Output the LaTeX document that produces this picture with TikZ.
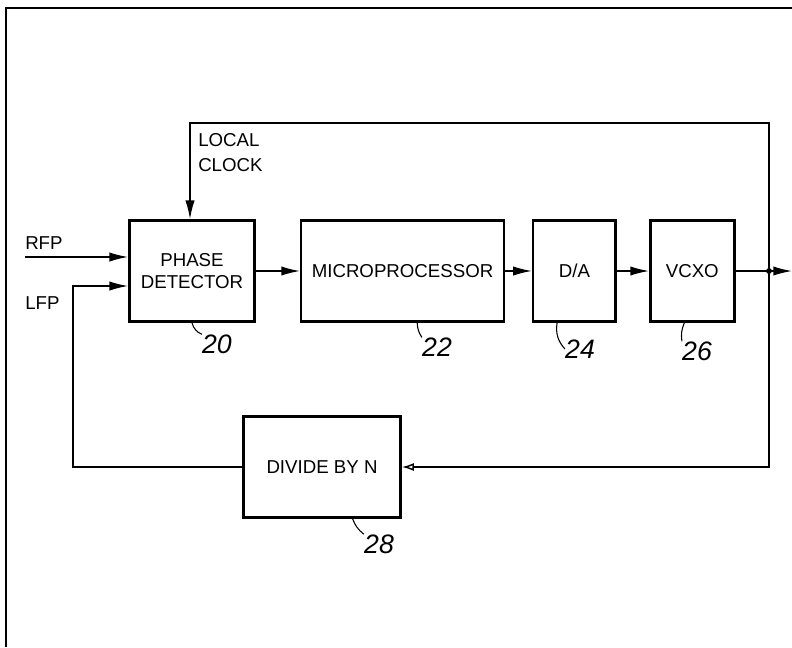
\documentclass[tikz,border=0pt]{standalone}
\usepackage{fontspec}
\setsansfont{Liberation Sans}
\usetikzlibrary{arrows.meta,positioning}
\tikzset{
  blockbox/.style={
    rectangle, draw=black, line width=1.9pt,
    minimum height=76pt,
    font=\sffamily\fontsize{14}{17}\selectfont, align=center,
    inner sep=2pt
  },
  sigarrow/.style={
    -{Latex[length=14pt,width=7pt]}, line width=1.1pt
  },
  openarrow/.style={
    -{Latex[open,length=9pt,width=6pt]}, line width=1.1pt
  },
  sigtext/.style={
    font=\sffamily\fontsize{14}{19}\selectfont, align=left, inner sep=0pt
  },
  refnum/.style={
    font=\sffamily\itshape\fontsize{20}{22}\selectfont, inner sep=0pt
  },
  leader/.style={line width=0.8pt},
}

\begin{document}
\begin{tikzpicture}[x=0.75pt, y=-0.75pt]
  \useasboundingbox (0,0) rectangle (792,647);
  % scan frame
  \draw[line width=1.2pt] (6,647) -- (6,8) -- (792,8);

  % forward chain
  \node[blockbox, minimum width=94pt] (phasedet) at (192,271) {PHASE\\DETECTOR};
  \node[blockbox, minimum width=152pt, right=33pt of phasedet] (micro) {MICROPROCESSOR};
  \node[blockbox, minimum width=62pt, right=20pt of micro] (dac) {D/A};
  \node[blockbox, minimum width=63pt, right=24pt of dac] (vcxo) {VCXO};
  \node[blockbox, minimum width=118pt] (divn) at (322,467) {DIVIDE BY N};

  \draw[sigarrow] (phasedet) -- (micro);
  \draw[sigarrow] (micro) -- (dac);
  \draw[sigarrow] (dac) -- (vcxo);

  % inputs and feedback
  \coordinate (rfpin) at (25,257);
  \coordinate (lfpin) at (73,286);
  \coordinate (lfpturn) at (73,467);
  \coordinate (split) at (769,271);
  \coordinate (outend) at (792,271);
  \coordinate (clkturn) at (769,123);

  \node[sigtext, anchor=west] (rfplbl) at (25,243) {RFP};
  \node[sigtext, anchor=west] (lfplbl) at (25,303) {LFP};
  \node[sigtext, anchor=north west] (clklbl) at (198,133) {LOCAL\\CLOCK};

  \draw[sigarrow] (rfpin) -- (rfpin -| phasedet.west);
  \draw[sigarrow] (divn.west) -- (lfpturn) -- (lfpin) -- (lfpin -| phasedet.west);
  \draw[line width=1.1pt] (vcxo) -- (split);
  \draw[sigarrow] (split) -- (outend);
  \draw[sigarrow] (split) -- (clkturn) -| ([xshift=-1.5pt]phasedet.north);
  \draw[openarrow] (split) |- (divn.east);
  \fill (split) circle (2.2pt);

  % reference numerals
  \node[refnum] (n20) at (217,344) {20};
  \node[refnum] (n22) at (437,347) {22};
  \node[refnum] (n24) at (580,349) {24};
  \node[refnum] (n26) at (697,351) {26};
  \node[refnum] (n28) at (379,544) {28};
  \draw[leader] (phasedet.south) to[bend right=25] (n20.north west);
  \draw[leader] ([xshift=11pt]micro.south) to[bend right=15] (n22.north west);
  \draw[leader] ([xshift=-13pt]dac.south) to[bend right=25] (n24.west);
  \draw[leader] ([xshift=-6pt]vcxo.south) to[bend right=15] (n26.north west);
  \draw[leader] ([xshift=23pt]divn.south) to[bend right=15] (n28.north west);
\end{tikzpicture}
\end{document}
